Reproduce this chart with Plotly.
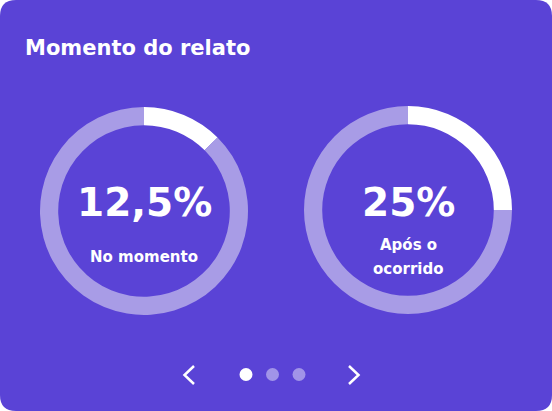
import plotly.graph_objects as go

W, H = 552, 411

# Data
categories = ["No momento", "Após o<br>ocorrido"]
percent_values = [12.5, 25.0]
value_labels = ["12,5%", "25%"]
page_count = 3
active_page = 0

BG = "#5A43D6"
RING = "#A89CE6"
WHITE = "#FFFFFF"
FONT = "DejaVu Sans"

def px(x):
    return x / W

def py(y):
    return 1 - y / H

fig = go.Figure()

# donut geometry (pixels)
centers = [(144, 211), (408, 210)]
R = 104

for (cx, cy), v in zip(centers, percent_values):
    fig.add_trace(go.Pie(
        values=[v, 100 - v],
        labels=["a", "b"],
        sort=False,
        direction="clockwise",
        rotation=0,
        hole=0.825,
        marker=dict(colors=[WHITE, RING], line=dict(width=0)),
        textinfo="none",
        hoverinfo="skip",
        showlegend=False,
        domain=dict(x=[px(cx - R), px(cx + R)], y=[py(cy + R), py(cy - R)]),
    ))

shapes = []
# card background with rounded corners
r = 16
rx, ry = r / W, r / H
path = (f"M {rx} 1 L {1-rx} 1 Q 1 1 1 {1-ry} L 1 {ry} Q 1 0 {1-rx} 0 "
        f"L {rx} 0 Q 0 0 0 {ry} L 0 {1-ry} Q 0 1 {rx} 1 Z")
shapes.append(dict(type="path", xref="paper", yref="paper", path=path,
                   fillcolor=BG, line=dict(width=0), layer="below"))

# pagination dots
dot_x = [246, 272.5, 299]
dot_y = 374.5
dr = 6.5
for i in range(page_count):
    shapes.append(dict(type="circle", xref="paper", yref="paper",
                       x0=px(dot_x[i] - dr), x1=px(dot_x[i] + dr),
                       y0=py(dot_y + dr), y1=py(dot_y - dr),
                       fillcolor=WHITE if i == active_page else "#A194E8",
                       line=dict(width=0)))

# chevrons
def chevron(pts):
    d = "M " + " L ".join(f"{px(x)} {py(y)}" for x, y in pts)
    return dict(type="path", xref="paper", yref="paper", path=d,
                line=dict(color=WHITE, width=2.5))

shapes.append(chevron([(194, 366), (184.5, 375), (194, 384)]))
shapes.append(chevron([(349, 366), (358.5, 375), (349, 384)]))

annotations = [
    dict(text="Momento do relato", x=px(23), y=py(48), xref="paper", yref="paper",
         xanchor="left", yanchor="middle", showarrow=False,
         font=dict(family=FONT, size=21, color=WHITE, weight=600)),
]
big_y = 202
line_gap = 24
for (cx, cy), lab, cat in zip(centers, value_labels, categories):
    annotations.append(dict(text=lab, x=px(cx), y=py(big_y), xref="paper", yref="paper",
                            xanchor="center", yanchor="middle", showarrow=False,
                            font=dict(family=FONT, size=39, color=WHITE, weight=700)))
    lines = cat.split("<br>")
    first = 257 if len(lines) == 1 else 245
    for k, ln in enumerate(lines):
        annotations.append(dict(text=ln, x=px(cx), y=py(first + k * line_gap),
                                xref="paper", yref="paper",
                                xanchor="center", yanchor="middle", showarrow=False,
                                font=dict(family=FONT, size=15, color=WHITE, weight=600)))

fig.update_layout(
    width=W, height=H,
    margin=dict(l=0, r=0, t=0, b=0),
    paper_bgcolor=WHITE,
    plot_bgcolor=WHITE,
    shapes=shapes,
    annotations=annotations,
)

fig.write_html("out.html", config={"displayModeBar": False},
               post_script="document.body.style.margin='0';document.body.style.padding='0';")
